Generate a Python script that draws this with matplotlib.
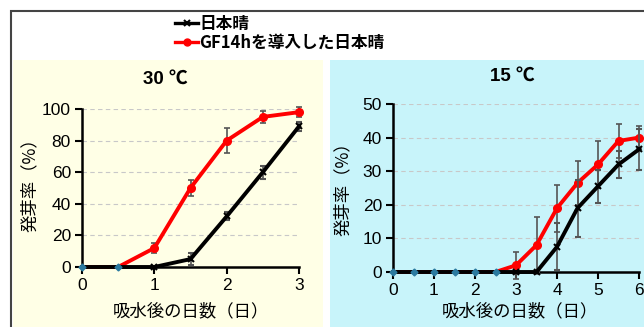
import matplotlib.pyplot as plt
import numpy as np
from matplotlib.patches import Rectangle
from matplotlib.lines import Line2D

plt.rcParams['font.family'] = ['Liberation Sans', 'Noto Sans CJK JP', 'DejaVu Sans']

# 30 C panel
days_30 = [0, 0.5, 1, 1.5, 2, 2.5, 3]
nip_30 = [0, 0, 0, 5, 32, 60, 89]
nip_30_err = [0, 0, 0, 4, 2.5, 4, 3]
gf_30 = [0, 0, 12, 50, 80, 95, 98]
gf_30_err = [0, 0, 3, 5, 8, 4, 3]

# 15 C panel
days_15 = [0, 0.5, 1, 1.5, 2, 2.5, 3, 3.5, 4, 4.5, 5, 5.5, 6]
nip_15 = [0, 0, 0, 0, 0, 0, 0, 0, 7.5, 19, 25.5, 32, 36.5]
nip_15_err = [0, 0, 0, 0, 0, 0, 0, 0, 7, 8.5, 5, 4, 6]
gf_15 = [0, 0, 0, 0, 0, 0, 2, 8, 19, 26.5, 32, 39, 40]
gf_15_err = [0, 0, 0, 0, 0, 0, 4, 8.5, 7, 6.5, 7, 5, 3.5]

legend_labels = ['日本晴', 'GF14hを導入した日本晴']
ylabel = '発芽率（%）'
xlabel = '吸水後の日数（日）'

W, H = 644, 327
fig = plt.figure(figsize=(W / 100, H / 100), dpi=100)
cjk = ['Noto Sans CJK JP', 'DejaVu Sans']

def fx(px):
    return px / W

def fy(py):
    return 1 - py / H

# background panels and frame
fig.patches.append(Rectangle((fx(13), 0), fx(310), fy(60), transform=fig.transFigure,
                             facecolor='#ffffe6', edgecolor='none', zorder=-2))
fig.patches.append(Rectangle((fx(330), 0), fx(314), fy(60), transform=fig.transFigure,
                             facecolor='#c8f4fa', edgecolor='none', zorder=-2))
fig.patches.append(Rectangle((fx(11), -0.05), 1.0, fy(11) + 0.05, transform=fig.transFigure,
                             facecolor='none', edgecolor='#444444', lw=1.5, zorder=-1))

def panel(rect, x, nip, nip_err, gf, gf_err, ymax, ystep, xmax, title, title_xy, ylab_xy, xlab_xy):
    ax = fig.add_axes(rect)
    ax.set_facecolor('none')
    ax.set_xlim(0, xmax)
    ax.set_ylim(0, ymax)
    ax.set_yticks(np.arange(0, ymax + 1, ystep))
    ax.set_xticks(np.arange(0, xmax + 1, 1))
    for v in np.arange(ystep, ymax + 1, ystep):
        ax.axhline(v, color='#c8c8c8', lw=0.8, ls=(0, (4, 3)), zorder=0)
    both_zero = [b == 0 and c == 0 for b, c in zip(nip, gf)]
    shown = [i for i, z in enumerate(both_zero) if not z]
    ax.errorbar(x, gf, yerr=gf_err, color='red', lw=2.8, marker='o', ms=5.5, markevery=shown,
                ecolor='#555555', elinewidth=1.2, capsize=2.5, capthick=1.2, clip_on=False, zorder=3)
    ax.errorbar(x, nip, yerr=nip_err, color='black', lw=2.8, marker='x', ms=4, mew=1.5, markevery=shown,
                ecolor='#555555', elinewidth=1.2, capsize=2.5, capthick=1.2, clip_on=False, zorder=4)
    # points where both lines sit at zero show as small teal markers
    xz = [a for a, z in zip(x, both_zero) if z]
    ax.plot(xz, [0] * len(xz), ls='none', marker='D', ms=3.5, color='#2a7aa0', clip_on=False, zorder=5)
    for s in ['top', 'right']:
        ax.spines[s].set_visible(False)
    for s in ['left', 'bottom']:
        ax.spines[s].set_linewidth(1.8)
    ax.tick_params(direction='out', length=5, width=1.5, labelsize=12.5, pad=3)
    fig.text(fx(title_xy[0]), fy(title_xy[1]), title, ha='center', va='center',
             fontsize=13.5, fontweight='bold')
    fig.text(fx(ylab_xy[0]), fy(ylab_xy[1]), ylabel, rotation=90,
             ha='center', va='center', fontsize=12.5, family=cjk)
    fig.text(fx(xlab_xy[0]), fy(xlab_xy[1]), xlabel, ha='center', va='center',
             fontsize=12.5, family=cjk)
    return ax

panel([fx(82), fy(267), fx(299 - 82), fy(109) - fy(267)], days_30, nip_30, nip_30_err,
      gf_30, gf_30_err, 100, 20, 3, '30 ℃', (165, 79), (30, 181), (191, 311))
panel([fx(393), fy(272), fx(639 - 393), fy(104) - fy(272)], days_15, nip_15, nip_15_err,
      gf_15, gf_15_err, 50, 10, 6, '15 ℃', (512, 76), (343, 185), (520, 311))

handles = [Line2D([], [], color='black', lw=2.4, marker='x', ms=4, mew=1.5),
           Line2D([], [], color='red', lw=2.4, marker='o', ms=5)]
fig.legend(handles, legend_labels, loc='center left', bbox_to_anchor=(fx(160), fy(33)),
           frameon=False, handlelength=1.4, handletextpad=0.05, labelspacing=0.05,
           prop={'family': cjk, 'weight': 'bold', 'size': 12})

fig.savefig('out.png', dpi=100)
